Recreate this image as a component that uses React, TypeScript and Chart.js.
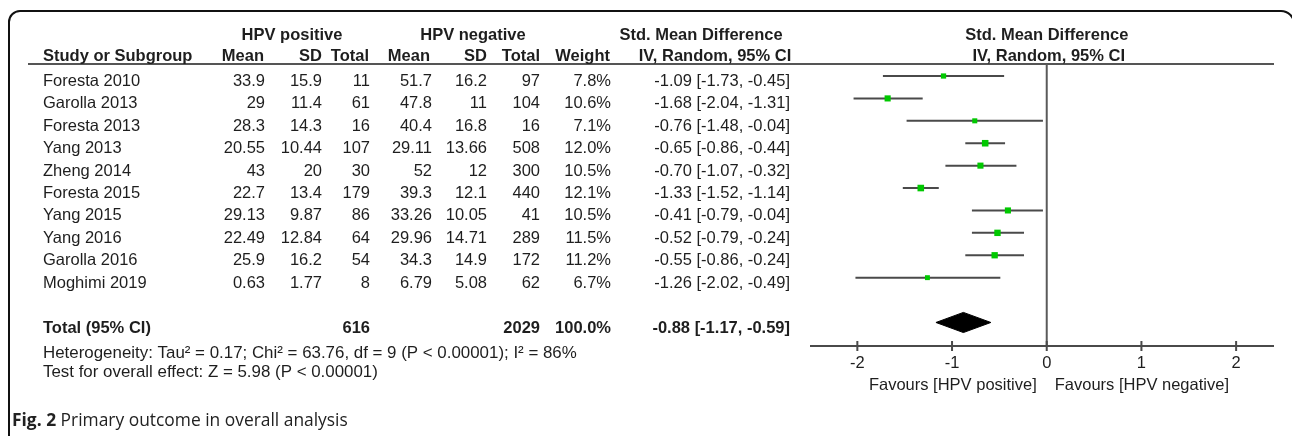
import React, { useEffect, useRef } from 'react';
import { Chart, registerables } from 'chart.js';

Chart.register(...registerables);

const studies = ['Foresta 2010', 'Garolla 2013', 'Foresta 2013', 'Yang 2013', 'Zheng 2014', 'Foresta 2015', 'Yang 2015', 'Yang 2016', 'Garolla 2016', 'Moghimi 2019'];
const posMean = [33.9, 29, 28.3, 20.55, 43, 22.7, 29.13, 22.49, 25.9, 0.63];
const posSD = [15.9, 11.4, 14.3, 10.44, 20, 13.4, 9.87, 12.84, 16.2, 1.77];
const posTotal = [11, 61, 16, 107, 30, 179, 86, 64, 54, 8];
const negMean = [51.7, 47.8, 40.4, 29.11, 52, 39.3, 33.26, 29.96, 34.3, 6.79];
const negSD = [16.2, 11, 16.8, 13.66, 12, 12.1, 10.05, 14.71, 14.9, 5.08];
const negTotal = [97, 104, 16, 508, 300, 440, 41, 289, 172, 62];
const weight = [7.8, 10.6, 7.1, 12.0, 10.5, 12.1, 10.5, 11.5, 11.2, 6.7];
const smd = [-1.09, -1.68, -0.76, -0.65, -0.70, -1.33, -0.41, -0.52, -0.55, -1.26];
const ciLow = [-1.73, -2.04, -1.48, -0.86, -1.07, -1.52, -0.79, -0.79, -0.86, -2.02];
const ciHigh = [-0.45, -1.31, -0.04, -0.44, -0.32, -1.14, -0.04, -0.24, -0.24, -0.49];

const totalPos = 616;
const totalNeg = 2029;
const totalWeight = 100.0;
const totalSmd = -0.88;
const totalLow = -1.17;
const totalHigh = -0.59;

const heterogeneityText = 'Heterogeneity: Tau\u00B2 = 0.17; Chi\u00B2 = 63.76, df = 9 (P < 0.00001); I\u00B2 = 86%';
const overallText = 'Test for overall effect: Z = 5.98 (P < 0.00001)';
const xTicks = [-2, -1, 0, 1, 2];
const leftFavours = 'Favours [HPV positive]';
const rightFavours = 'Favours [HPV negative]';

const TOTAL_ROW = 11;
const FONT = '"Liberation Sans", Arial, sans-serif';
const TXT = '#1e1e1e';

function fmt(v: number, d?: number) {
  return d === undefined ? String(v) : v.toFixed(d);
}

export default function App() {
  const ref = useRef<HTMLCanvasElement>(null);

  useEffect(() => {
    const canvas = ref.current;
    if (!canvas) return;

    const ciSets = studies.map((s, i) => ({
      label: s,
      data: [{ x: ciLow[i], y: i }, { x: ciHigh[i], y: i }],
      borderColor: '#4a4a4a',
      borderWidth: 2,
      pointRadius: 0,
      fill: false,
      order: 3,
    }));

    const sq = weight.map((w) => 2 + w * 0.22);
    const squares = {
      label: 'SMD',
      data: smd.map((v, i) => ({ x: v, y: i })),
      showLine: false,
      pointStyle: 'rect',
      pointRadius: sq,
      pointHoverRadius: sq,
      backgroundColor: '#00c800',
      borderColor: '#00c800',
      borderWidth: 0,
      order: 1,
    };

    const h = 0.45;
    const diamondTop = {
      label: 'totalTop',
      data: [{ x: totalLow, y: TOTAL_ROW }, { x: totalSmd, y: TOTAL_ROW - h }, { x: totalHigh, y: TOTAL_ROW }],
      borderColor: '#000',
      borderWidth: 1,
      backgroundColor: '#000',
      pointRadius: 0,
      fill: '+1',
      tension: 0,
      order: 2,
    };
    const diamondBottom = {
      label: 'totalBottom',
      data: [{ x: totalLow, y: TOTAL_ROW }, { x: totalSmd, y: TOTAL_ROW + h }, { x: totalHigh, y: TOTAL_ROW }],
      borderColor: '#000',
      borderWidth: 1,
      backgroundColor: '#000',
      pointRadius: 0,
      fill: false,
      tension: 0,
      order: 2,
    };

    const tablePlugin = {
      id: 'forestTable',
      beforeDatasetsDraw(chart: any) {
        const ctx = chart.ctx as CanvasRenderingContext2D;
        const xs = chart.scales.x;
        const ca = chart.chartArea;
        ctx.save();
        // frame
        ctx.strokeStyle = '#111';
        ctx.lineWidth = 2;
        ctx.beginPath();
        ctx.moveTo(9, 440);
        ctx.lineTo(9, 22);
        ctx.arcTo(9, 11, 20, 11, 11);
        ctx.lineTo(1281, 11);
        ctx.arcTo(1294, 11, 1294, 24, 13);
        ctx.lineTo(1294, 440);
        ctx.stroke();
        // header rule
        ctx.strokeStyle = '#555';
        ctx.lineWidth = 2;
        ctx.beginPath();
        ctx.moveTo(28, ca.top);
        ctx.lineTo(ca.right, ca.top);
        ctx.stroke();
        // zero line
        const x0 = xs.getPixelForValue(0);
        ctx.strokeStyle = '#5a5a5a';
        ctx.beginPath();
        ctx.moveTo(x0, ca.top);
        ctx.lineTo(x0, ca.bottom);
        ctx.stroke();
        // axis
        ctx.strokeStyle = '#4a4a4a';
        ctx.beginPath();
        ctx.moveTo(ca.left, ca.bottom);
        ctx.lineTo(ca.right, ca.bottom);
        xTicks.forEach((t) => {
          const px = xs.getPixelForValue(t);
          ctx.moveTo(px, ca.bottom - 5);
          ctx.lineTo(px, ca.bottom + 5);
        });
        ctx.stroke();
        ctx.restore();
      },
      afterDraw(chart: any) {
        const ctx = chart.ctx as CanvasRenderingContext2D;
        const xs = chart.scales.x;
        const ys = chart.scales.y;
        const ca = chart.chartArea;
        const x0 = xs.getPixelForValue(0);
        ctx.save();
        ctx.fillStyle = TXT;
        ctx.textBaseline = 'middle';
        const bold = `bold 16.5px ${FONT}`;
        const reg = `16.5px ${FONT}`;
        const put = (t: string, x: number, y: number, align: CanvasTextAlign, f: string) => {
          ctx.font = f;
          ctx.textAlign = align;
          ctx.fillText(t, x, y);
        };
        // header rows
        put('HPV positive', 292, 35, 'center', bold);
        put('HPV negative', 473, 35, 'center', bold);
        put('Std. Mean Difference', 701, 35, 'center', bold);
        put('Std. Mean Difference', x0, 35, 'center', bold);
        put('Study or Subgroup', 43, 56, 'left', bold);
        put('Mean', 264, 56, 'right', bold);
        put('SD', 322, 56, 'right', bold);
        put('Total', 369, 56, 'right', bold);
        put('Mean', 430, 56, 'right', bold);
        put('SD', 487, 56, 'right', bold);
        put('Total', 540, 56, 'right', bold);
        put('Weight', 610, 56, 'right', bold);
        put('IV, Random, 95% CI', 715, 56, 'center', bold);
        put('IV, Random, 95% CI', x0 + 2, 56, 'center', bold);

        studies.forEach((s, i) => {
          const y = ys.getPixelForValue(i) + 5.5;
          put(s, 43, y, 'left', reg);
          put(fmt(posMean[i]), 265, y, 'right', reg);
          put(fmt(posSD[i]), 322, y, 'right', reg);
          put(fmt(posTotal[i]), 370, y, 'right', reg);
          put(fmt(negMean[i]), 432, y, 'right', reg);
          put(fmt(negSD[i]), 487, y, 'right', reg);
          put(fmt(negTotal[i]), 540, y, 'right', reg);
          put(fmt(weight[i], 1) + '%', 611, y, 'right', reg);
          put(`${fmt(smd[i], 2)} [${fmt(ciLow[i], 2)}, ${fmt(ciHigh[i], 2)}]`, 790, y, 'right', reg);
        });

        const ty = ys.getPixelForValue(TOTAL_ROW) + 6;
        put('Total (95% CI)', 43, ty, 'left', bold);
        put(fmt(totalPos), 370, ty, 'right', bold);
        put(fmt(totalNeg), 540, ty, 'right', bold);
        put(fmt(totalWeight, 1) + '%', 611, ty, 'right', bold);
        put(`${fmt(totalSmd, 2)} [${fmt(totalLow, 2)}, ${fmt(totalHigh, 2)}]`, 790, ty, 'right', bold);

        put(heterogeneityText, 43, 353, 'left', `16.9px ${FONT}`);
        put(overallText, 43, 372, 'left', `16.9px ${FONT}`);

        // axis tick labels
        xTicks.forEach((t) => {
          put(String(t), xs.getPixelForValue(t), ca.bottom + 17, 'center', reg);
        });
        put(leftFavours, x0 - 10, ca.bottom + 39, 'right', reg);
        put(rightFavours, x0 + 8, ca.bottom + 39, 'left', reg);

        // caption
        ctx.fillStyle = '#222';
        ctx.font = `bold 17.4px "Open Sans", sans-serif`;
        ctx.textAlign = 'left';
        ctx.fillText('Fig. 2', 12, 421);
        const w = ctx.measureText('Fig. 2 ').width;
        ctx.font = `17.4px "Open Sans", sans-serif`;
        ctx.fillText('Primary outcome in overall analysis', 12 + w, 421);
        ctx.restore();
      },
    };

    const chart = new Chart(canvas, {
      type: 'line',
      data: { datasets: [...ciSets, squares, diamondTop, diamondBottom] as any },
      options: {
        animation: false,
        responsive: false,
        devicePixelRatio: 1,
        layout: { padding: { left: 810, right: 18, top: 64, bottom: 90 } },
        plugins: { legend: { display: false }, tooltip: { enabled: false } },
        scales: {
          x: { type: 'linear', min: -2.5, max: 2.4, display: false },
          y: { type: 'linear', min: -0.536, max: 12.05, reverse: true, display: false },
        },
      },
      plugins: [tablePlugin],
    });
    return () => chart.destroy();
  }, []);

  return (
    <div style={{ position: 'fixed', left: 0, top: 0, width: 1292, height: 436, background: '#fff' }}>
      <canvas ref={ref} width={1292} height={436} style={{ display: 'block' }} />
    </div>
  );
}
